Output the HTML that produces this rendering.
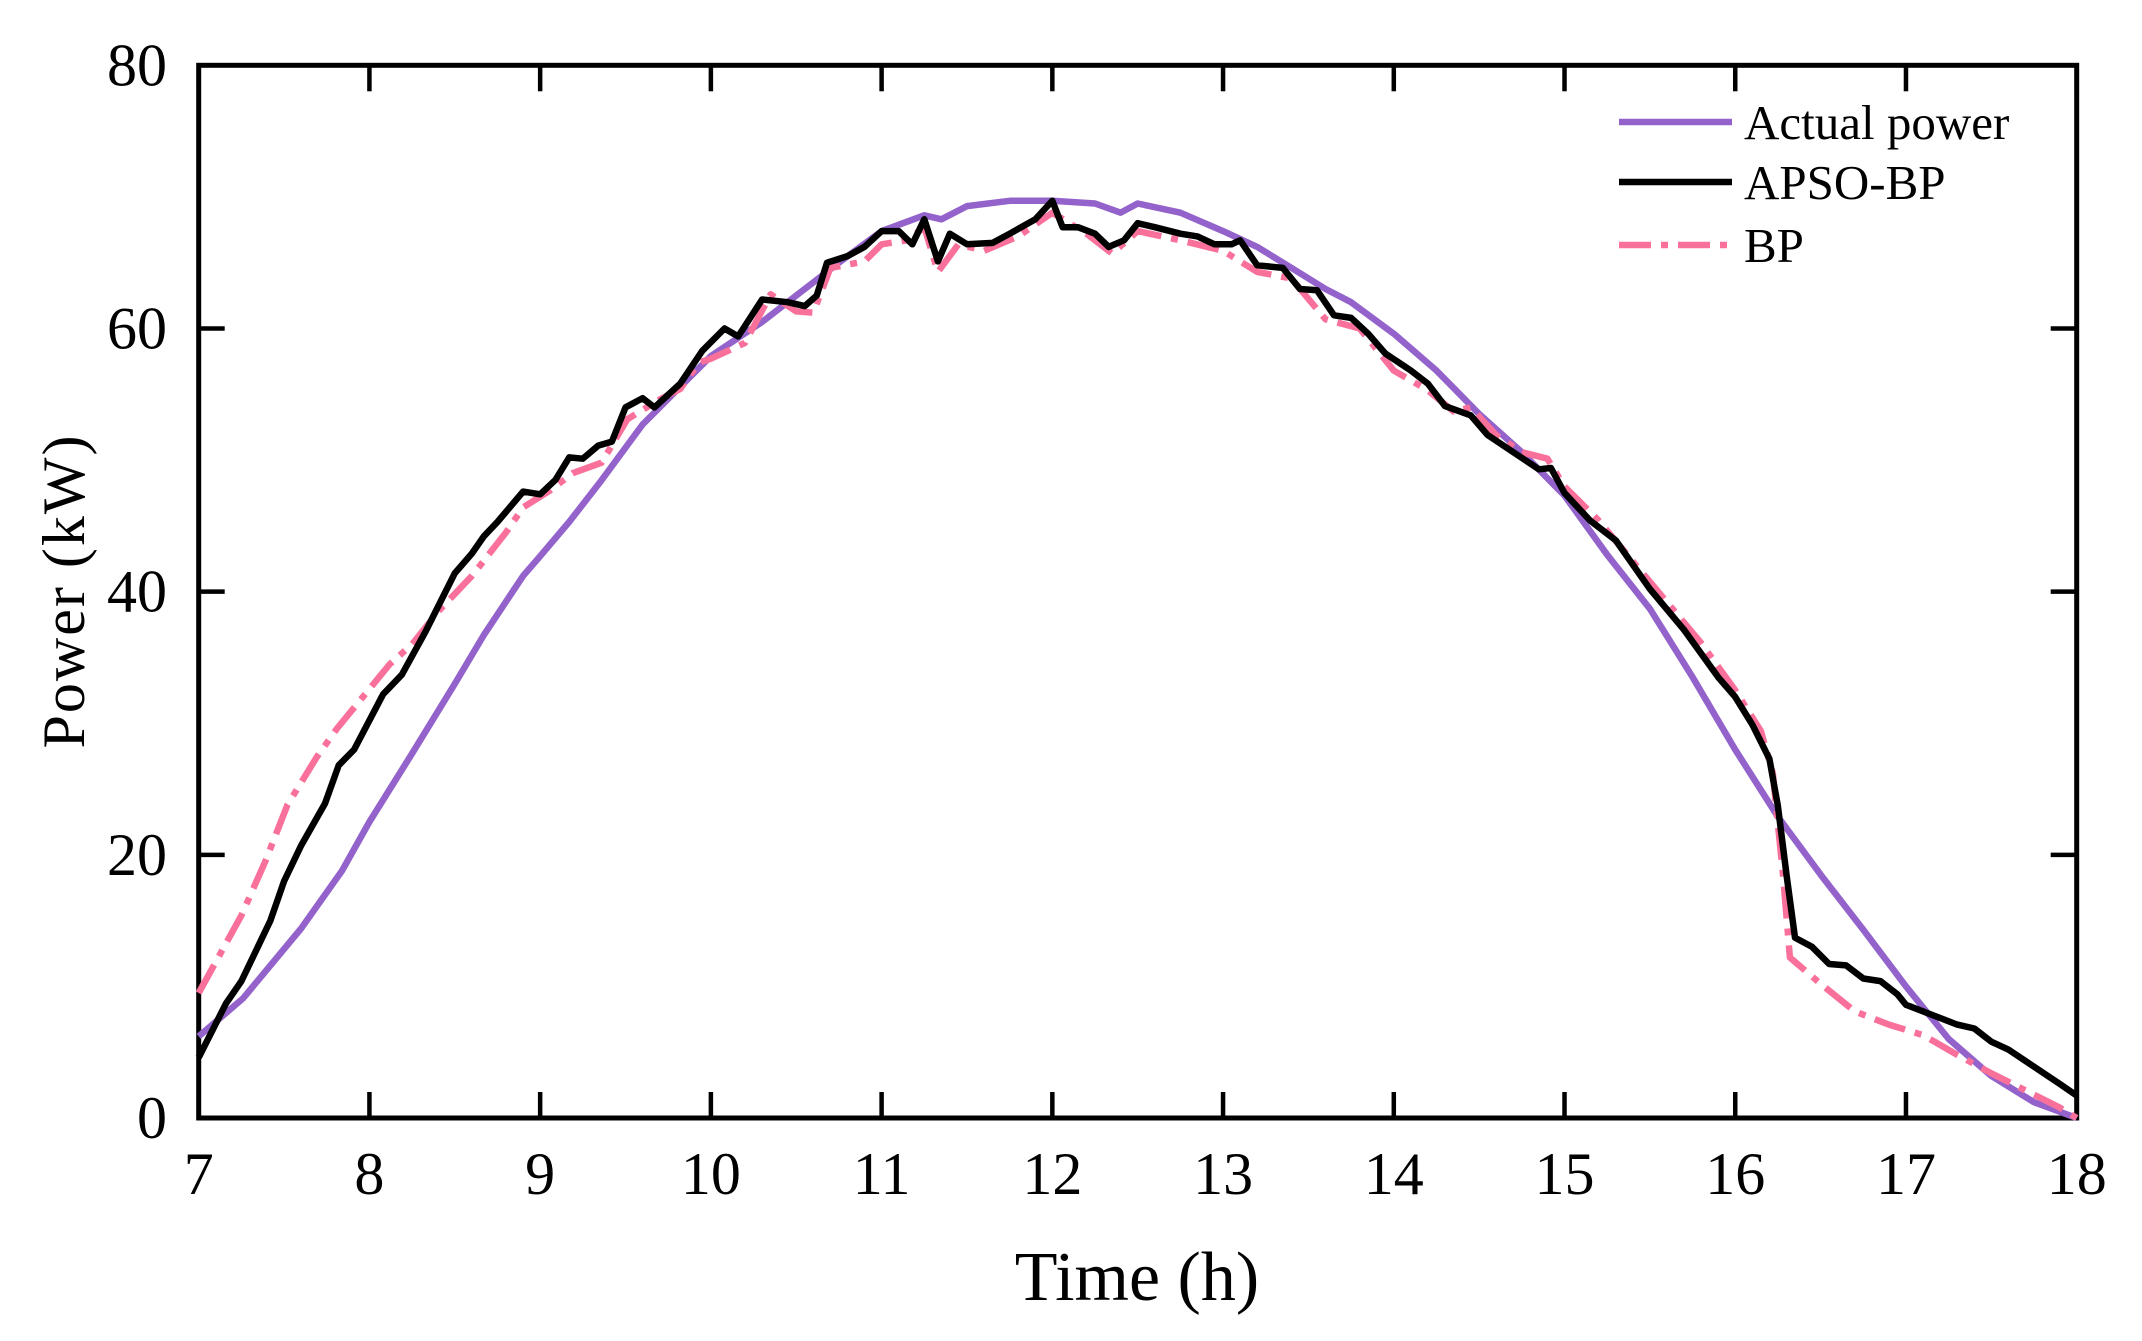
<!DOCTYPE html>
<html><head><meta charset="utf-8"><style>
html,body{margin:0;padding:0;background:#fff;}
svg{display:block;font-family:"Liberation Serif",serif;}
</style></head><body>
<svg id="chart" width="2142" height="1341" viewBox="0 0 2142 1341" xmlns="http://www.w3.org/2000/svg">
<g id="grid"></g>
<g id="series"></g>
<text x="1137" y="1300" font-size="70" text-anchor="middle">Time (h)</text>
<text transform="translate(84,591) rotate(-90)" font-size="60" text-anchor="middle" letter-spacing="2">Power (kW)</text>
<g>
<line x1="1619" y1="122" x2="1732" y2="122" stroke="#9363cb" stroke-width="6.5"/>
<text x="1744" y="139" font-size="49">Actual power</text>
<line x1="1619" y1="182" x2="1732" y2="182" stroke="#000" stroke-width="6.5"/>
<text x="1744" y="199" font-size="49">APSO-BP</text>
<line x1="1619" y1="245" x2="1732" y2="245" stroke="#f9719a" stroke-width="6.5" stroke-dasharray="32 10 7 10"/>
<text x="1744" y="262" font-size="49">BP</text>
</g>
</svg>
<script>
const xTicks=[7,8,9,10,11,12,13,14,15,16,17,18];
const yTicks=[0,20,40,60,80];
const actualT=[7,7.26,7.6,7.84,8,8.25,8.5,8.67,8.9,9,9.17,9.35,9.6,10,10.3,10.5,10.75,11,11.25,11.35,11.5,11.75,12,12.25,12.4,12.5,12.75,13,13.2,13.4,13.6,13.75,14,14.25,14.5,14.75,15,15.25,15.5,15.75,16,16.25,16.5,16.75,17,17.25,17.5,17.75,18];
const actualV=[6.2,9.1,14.4,18.8,22.5,27.7,33,36.7,41.2,42.7,45.3,48.3,52.7,57.9,60.5,62.5,65,67.4,68.6,68.3,69.3,69.7,69.7,69.5,68.8,69.5,68.8,67.4,66.2,64.6,63,62,59.6,56.8,53.5,50.6,47.3,42.8,38.7,33.5,28,22.9,18.5,14.3,10,6,3.2,1.2,0];
const apsoT=[7,7.16,7.25,7.42,7.5,7.6,7.74,7.82,7.91,8.08,8.19,8.33,8.5,8.6,8.67,8.75,8.9,9,9.09,9.17,9.25,9.34,9.42,9.5,9.6,9.67,9.82,9.95,10.08,10.16,10.3,10.45,10.55,10.62,10.68,10.8,10.9,11,11.1,11.18,11.25,11.33,11.4,11.5,11.65,11.75,11.9,12,12.06,12.15,12.25,12.33,12.42,12.5,12.6,12.75,12.85,12.95,13.05,13.1,13.2,13.35,13.45,13.55,13.65,13.75,13.85,13.95,14.1,14.2,14.3,14.45,14.55,14.7,14.85,14.92,15,15.15,15.3,15.5,15.7,15.9,16,16.1,16.2,16.25,16.3,16.35,16.45,16.55,16.65,16.75,16.85,16.95,17,17.1,17.2,17.3,17.4,17.5,17.6,17.75,17.9,18];
const apsoV=[4.6,8.7,10.4,15,18,20.7,23.9,26.8,28,32.2,33.7,37,41.4,42.9,44.2,45.3,47.6,47.4,48.5,50.2,50.1,51.1,51.4,54,54.7,54,55.8,58.3,60,59.4,62.2,62,61.7,62.5,65,65.5,66.2,67.4,67.4,66.4,68.3,65.1,67.2,66.4,66.5,67.2,68.3,69.7,67.7,67.7,67.2,66.2,66.7,68,67.7,67.2,67,66.4,66.4,66.7,64.8,64.6,63,62.9,61,60.8,59.6,58.1,56.8,55.8,54.1,53.4,51.9,50.6,49.3,49.4,47.5,45.4,43.9,40.2,37.1,33.5,32,29.9,27.3,23.7,18.5,13.7,13,11.7,11.6,10.6,10.4,9.4,8.6,8.1,7.6,7.1,6.8,5.8,5.2,3.9,2.6,1.7];
const bpT=[7,7.25,7.39,7.52,7.69,7.81,8,8.12,8.25,8.41,8.6,8.8,8.9,9.06,9.19,9.36,9.51,9.7,9.82,9.93,10,10.2,10.35,10.5,10.6,10.7,10.9,11,11.15,11.25,11.33,11.45,11.6,11.8,12,12.2,12.35,12.5,12.75,13,13.2,13.4,13.6,13.8,14,14.2,14.35,14.45,14.6,14.75,14.9,15,15.2,15.4,15.6,15.8,16,16.15,16.22,16.28,16.32,16.5,16.7,16.9,17.1,17.3,17.5,17.7,17.9,18];
const bpV=[9.5,15.4,19.5,23.8,27.4,29.6,32.6,34.5,36,38.6,41.2,44.5,46.4,47.7,49,49.8,53.1,54.6,55.4,57.4,57.7,58.9,62.6,61.3,61.2,64.6,65.1,66.4,66.7,67.7,64.3,66.4,65.9,67,68.8,67.2,65.7,67.4,66.7,65.9,64.3,63.8,60.7,60,56.8,55.3,53.7,54,51.9,50.6,50.1,48,45.4,42.3,39.2,36.1,32.5,29.4,26.2,18.5,12.2,10.2,8.1,7.1,6.3,4.8,3.4,2.1,0.8,0];

const L=198.7,R=2076.7,T=65.3,B=1118;
const X=t=>L+(t-7)/(18-7)*(R-L);
const Y=v=>B-v/80*(B-T);
const NS='http://www.w3.org/2000/svg';
function mk(tag,attrs,parent){const e=document.createElementNS(NS,tag);for(const k in attrs)e.setAttribute(k,attrs[k]);parent.appendChild(e);return e;}
const g=document.getElementById('grid'),s=document.getElementById('series');
xTicks.forEach(t=>{
  const a=mk('line',{x1:X(t),x2:X(t),y1:B,y2:B-26,stroke:'#000','stroke-width':4.5},g);
  
  
  const b=mk('line',{x1:X(t),x2:X(t),y1:T,y2:T+26,stroke:'#000','stroke-width':4.5},g);
  
  
  const tx=mk('text',{x:X(t),y:1194,'font-size':60,'text-anchor':'middle'},g);
  tx.textContent=t;
  
  
});
yTicks.forEach(v=>{
  const a=mk('line',{x1:L,x2:L+26,y1:Y(v),y2:Y(v),stroke:'#000','stroke-width':4.5},g);
  
  
  const b=mk('line',{x1:R,x2:R-26,y1:Y(v),y2:Y(v),stroke:'#000','stroke-width':4.5},g);
  
  
  const tx=mk('text',{x:167,y:Y(v)+20,'font-size':60,'text-anchor':'end'},g);
  tx.textContent=v;
  
  
});
function line(ts,vs,attrs,name){
  const d=ts.map((t,i)=>(i?'L':'M')+X(t).toFixed(1)+' '+Y(vs[i]).toFixed(1)).join(' ');
  const p=mk('path',Object.assign({d:d,fill:'none','stroke-linejoin':'round'},attrs),s);
  
  
}
line(actualT,actualV,{stroke:'#9363cb','stroke-width':6.5},'actual-power-line');
line(bpT,bpV,{stroke:'#f9719a','stroke-width':6.5,'stroke-dasharray':'32 10 7 10'},'bp-line');
line(apsoT,apsoV,{stroke:'#000','stroke-width':6.5},'apso-bp-line');
const fr=mk('rect',{x:L,y:T,width:R-L,height:B-T,fill:'none',stroke:'#000','stroke-width':5},g);


</script>
</body></html>
